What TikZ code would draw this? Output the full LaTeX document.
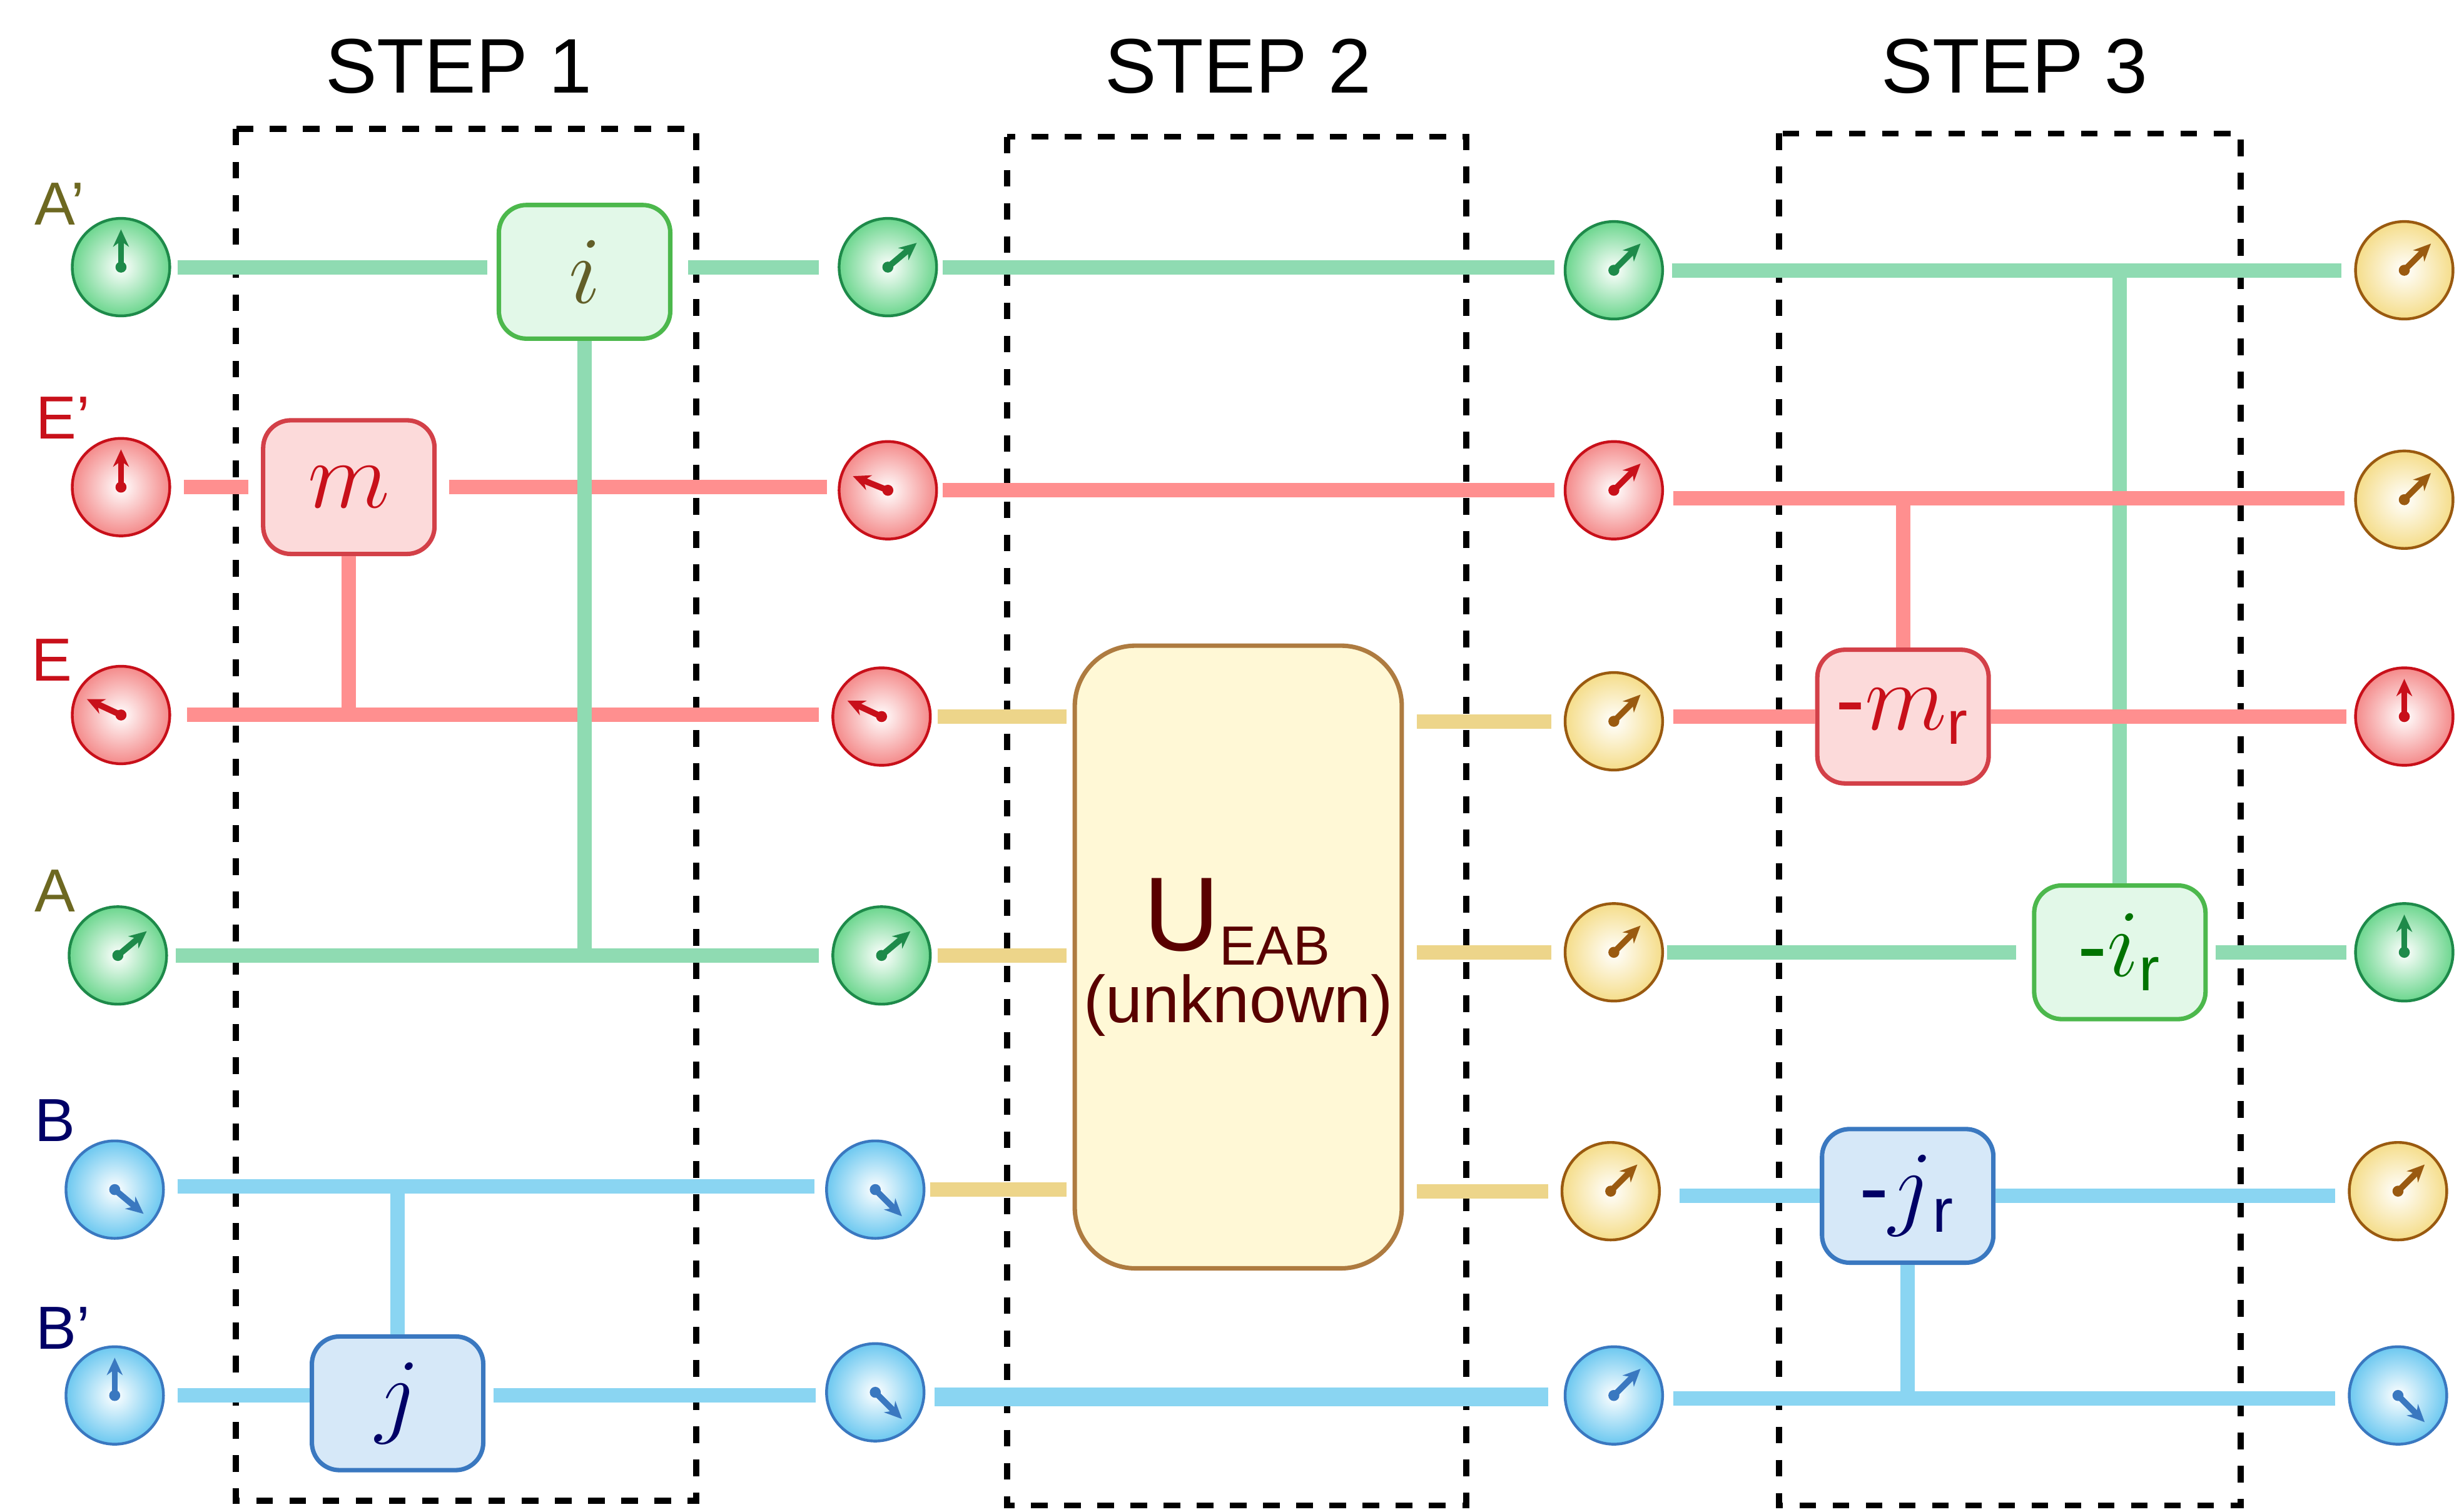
\documentclass[tikz,border=0pt]{standalone}
\usepackage{fontspec}
\setmainfont{Liberation Sans}
\usetikzlibrary{arrows.meta}
\begin{document}
\begin{tikzpicture}[x=0.01cm,y=-0.01cm,
 gl/.style={line width=2.6pt,draw=gline},
 rl/.style={line width=2.6pt,draw=rline},
 bl/.style={line width=2.6pt,draw=bline},
 yl/.style={line width=2.6pt,draw=yline},
 stepbox/.style={draw,dashed,line width=1.1pt},
 gate/.style={rounded corners=5pt,minimum width=1.09cm,minimum height=0.85cm,line width=0.8pt,inner sep=0pt},
 gtxt/.style={font=\fontsize{16}{16}\selectfont},
 rowlab/.style={font=\fontsize{11}{11}\selectfont},
]
\definecolor{gline}{HTML}{8FDBB2}\definecolor{rline}{HTML}{FF8F8F}
\definecolor{bline}{HTML}{8AD5F2}\definecolor{yline}{HTML}{EDD58A}
\definecolor{gdark}{HTML}{1E8A4A}\definecolor{rdark}{HTML}{C8101A}
\definecolor{bdark}{HTML}{3A78C0}\definecolor{ydark}{HTML}{9A5A10}
\definecolor{gfill}{HTML}{E2F8E8}\definecolor{rfill}{HTML}{FCDADA}
\definecolor{bfill}{HTML}{D6E8F8}\definecolor{yfill}{HTML}{FFF8D6}
\definecolor{gq}{HTML}{6CD68E}\definecolor{rq}{HTML}{F48A8A}
\definecolor{bq}{HTML}{6CC8F0}\definecolor{yq}{HTML}{F5DD8A}
\useasboundingbox (0,0) rectangle (1568,962);
\newcommand\qb[5]{% name,x,y,color key,angle
 \node[circle,minimum size=0.62cm,inner sep=0pt,draw=#4dark,line width=0.5pt,inner color=white,outer color=#4q] (#1) at (#2,#3) {};
 \draw[#4dark,line width=1.1pt,-{Stealth[length=0.11cm,width=0.1cm]}] (#1.center) -- ++(#5:0.24cm);
 \fill[#4dark] (#1.center) circle (0.035cm);}
% step boxes
\draw[stepbox] (150,82) rectangle (443,955);
\draw[stepbox] (641,87) rectangle (933,958);
\draw[stepbox] (1132,85) rectangle (1426,958);
\node[font=\fontsize{14}{14}\selectfont] (s1) at (292,42) {STEP 1};
\node[font=\fontsize{14}{14}\selectfont] (s2) at (788,42) {STEP 2};
\node[font=\fontsize{14}{14}\selectfont] (s3) at (1282,42) {STEP 3};
% labels
\node[rowlab,text=olive!70!black] (lA1) at (38,130) {A’};
\node[rowlab,text=rdark] (lE1) at (40,266) {E’};
\node[rowlab,text=rdark] (lE) at (33,420) {E};
\node[rowlab,text=olive!70!black] (lA) at (35,567) {A};
\node[rowlab,text=blue!40!black] (lB) at (35,713) {B};
\node[rowlab,text=blue!40!black] (lB1) at (40,845) {B’};
% gates
\node[gate,gtxt,draw=green!60!black!70,fill=gfill,text=olive!60!black] (gi) at (372,173) {$i$};
\node[gate,gtxt,draw=rdark!80,fill=rfill,text=rdark] (gm) at (222,310) {$m$};
\node[gate,gtxt,draw=bdark,fill=bfill,text=blue!40!black] (gj) at (253,893) {$j$};
\node[gate,gtxt,draw=rdark!80,fill=rfill,text=rdark] (gmr) at (1211,456) {-$m$\textsubscript{r}};
\node[gate,gtxt,draw=green!60!black!70,fill=gfill,text=green!45!black] (gir) at (1349,606) {-$i$\textsubscript{r}};
\node[gate,gtxt,draw=bdark,fill=bfill,text=blue!40!black] (gjr) at (1214,761) {-$j$\textsubscript{r}};
\node[rounded corners=11pt,draw=ydark!80,fill=yfill,line width=0.8pt,minimum width=2.08cm,minimum height=3.96cm,inner sep=0pt,align=center,text=red!35!black] (U) at (788,609) {\fontsize{19}{19}\selectfont U\textsubscript{\fontsize{10}{10}\selectfont EAB}\\[1pt]\fontsize{12}{12}\selectfont(unknown)};
% qubits
\qb{a1}{77}{170}{g}{90}\qb{e1}{77}{310}{r}{90}\qb{e}{77}{455}{r}{155}
\qb{a}{75}{608}{g}{40}\qb{b}{73}{757}{b}{-40}\qb{b1}{73}{888}{b}{90}
\qb{a2}{565}{170}{g}{40}\qb{e2}{565}{312}{r}{158}\qb{ee2}{561}{456}{r}{155}
\qb{aa2}{561}{608}{g}{40}\qb{b2}{557}{757}{b}{-45}\qb{bb2}{557}{886}{b}{-45}
\qb{a3}{1027}{172}{g}{45}\qb{e3}{1027}{312}{r}{45}\qb{ee3}{1027}{459}{y}{45}
\qb{aa3}{1027}{606}{y}{45}\qb{b3}{1025}{758}{y}{45}\qb{bb3}{1027}{888}{b}{45}
\qb{a4}{1530}{172}{y}{45}\qb{e4}{1530}{318}{y}{45}\qb{ee4}{1530}{456}{r}{90}
\qb{aa4}{1530}{606}{g}{90}\qb{b4}{1526}{758}{y}{45}\qb{bb4}{1526}{888}{b}{-45}
% step 1 lines
\draw[gl] ([xshift=0.04cm]a1.east) -- ([xshift=-0.06cm]gi.west |- a1);
\draw[gl] ([xshift=0.1cm]gi.east |- a1) -- ([xshift=-0.12cm]a2.west |- a1);
\draw[rl] ([xshift=0.08cm]e1.east) -- ([xshift=-0.08cm]gm.west |- e1);
\draw[rl] ([xshift=0.08cm]gm.east |- e1) -- ([xshift=-0.07cm]e2.west |- e1);
\draw[rl] ([xshift=0.1cm]e.east) -- ([xshift=-0.08cm]ee2.west |- e);
\draw[rl] (gm.south) -- (gm.south |- e);
\draw[gl] ([xshift=0.05cm]a.east) -- ([xshift=-0.08cm]aa2.west |- a);
\draw[gl] (gi.south) -- (gi.south |- a);
\draw[bl] ([xshift=0.08cm]b.east |- 0,755) -- ([xshift=-0.07cm]b2.west |- 0,755);
\draw[bl] (gj.north) -- (gj.north |- 0,755);
\draw[bl] ([xshift=0.08cm]b1.east) -- (gj.west |- b1);
\draw[bl] ([xshift=0.05cm]gj.east |- b1) -- ([xshift=-0.06cm]bb2.west |- b1);
% step 2
\draw[gl] ([xshift=0.03cm]a2.east) -- ([xshift=-0.06cm]a3.west |- a2);
\draw[rl] ([xshift=0.03cm]e2.east) -- ([xshift=-0.06cm]e3.west |- e2);
\draw[yl] ([xshift=0.04cm]ee2.east) -- ([xshift=-0.04cm]U.west |- ee2);
\draw[yl] ([xshift=0.04cm]aa2.east) -- ([xshift=-0.04cm]U.west |- aa2);
\draw[yl] ([xshift=0.03cm]b2.east) -- ([xshift=-0.04cm]U.west |- b2);
\draw[yl] ([xshift=0.08cm]U.east |- ee3) -- ([xshift=-0.08cm]ee3.west);
\draw[yl] ([xshift=0.08cm]U.east |- aa3) -- ([xshift=-0.08cm]aa3.west);
\draw[yl] ([xshift=0.08cm]U.east |- b3) -- ([xshift=-0.08cm]b3.west);
\draw[bl,line width=3.4pt] ([xshift=0.06cm]bb2.east |- 0,889) -- ([xshift=-0.1cm]bb3.west |- 0,889);
% step 3
\draw[gl] ([xshift=0.05cm]a3.east) -- ([xshift=-0.08cm]a4.west);
\draw[gl] (gir.north) -- (gir.north |- a3);
\draw[rl] ([xshift=0.06cm]e3.east |- 0,317) -- ([xshift=-0.06cm]e4.west |- 0,317);
\draw[rl] (gmr.north) -- (gmr.north |- 0,317);
\draw[rl] ([xshift=0.06cm]ee3.east |- gmr) -- (gmr.west);
\draw[rl] (gmr.east) -- ([xshift=-0.05cm]ee4.west);
\draw[gl] ([xshift=0.02cm]aa3.east) -- ([xshift=-0.1cm]gir.west);
\draw[gl] ([xshift=0.05cm]gir.east) -- ([xshift=-0.05cm]aa4.west);
\draw[bl] ([xshift=0.12cm]b3.east |- gjr) -- (gjr.west);
\draw[bl] (gjr.east) -- ([xshift=-0.08cm]b4.west |- gjr);
\draw[bl] ([xshift=0.06cm]bb3.east |- 0,890) -- ([xshift=-0.08cm]bb4.west |- 0,890);
\draw[bl] (gjr.south) -- (gjr.south |- 0,890);
\end{tikzpicture}
\end{document}
